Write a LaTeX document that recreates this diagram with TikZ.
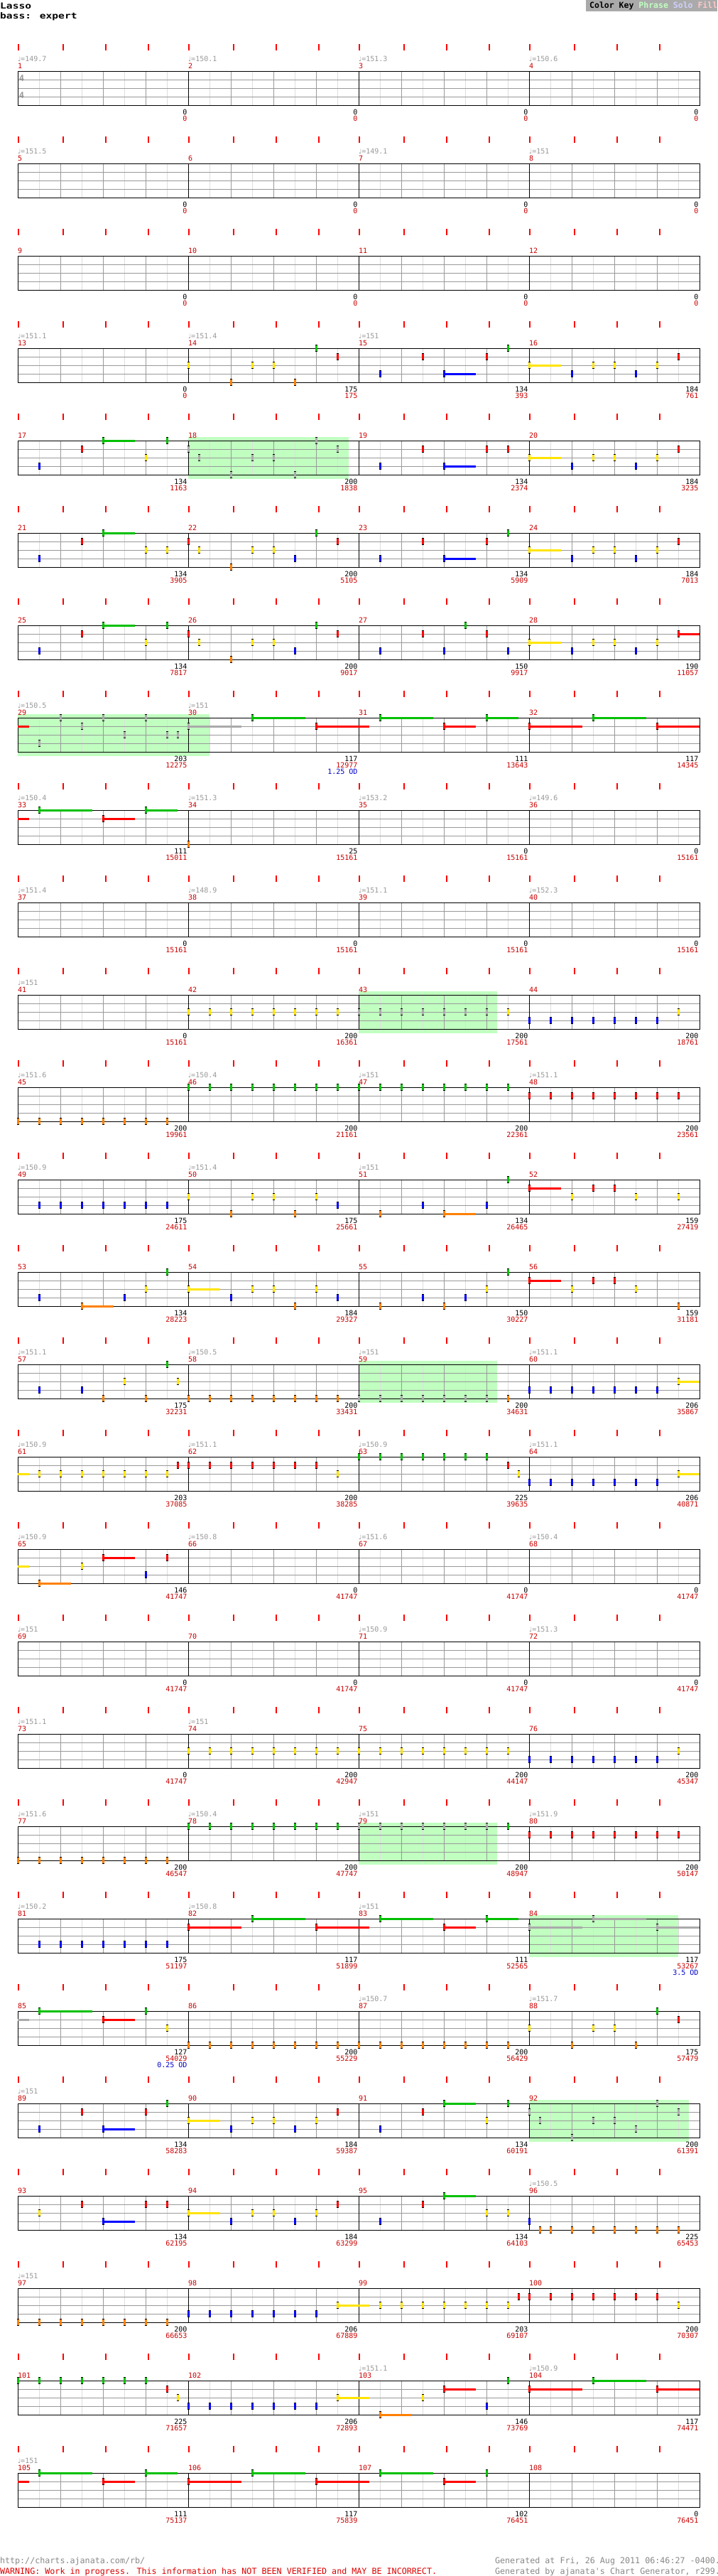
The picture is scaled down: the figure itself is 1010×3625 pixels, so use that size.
\documentclass[tikz,border=0pt]{standalone}
\usepackage{fontspec}
\newfontfamily\mono{DejaVu Sans Mono}
\newfontfamily\symf{DejaVu Sans}
\definecolor{cg}{HTML}{00C000}
\definecolor{cr}{HTML}{FF0000}
\definecolor{cy}{HTML}{FFE400}
\definecolor{cb}{HTML}{0000FF}
\definecolor{co}{HTML}{FF8000}
\definecolor{cgr}{HTML}{AAAAAA}
\definecolor{cph}{HTML}{C0FFC0}
\definecolor{cnum}{HTML}{CC0000}
\definecolor{cgt}{HTML}{999999}
\definecolor{cgl}{HTML}{999999}
\definecolor{cll}{HTML}{DDDDDD}
\definecolor{cod}{HTML}{0000CC}
\definecolor{ckey}{HTML}{AAAAAA}
\definecolor{ckph}{HTML}{C0FFC0}
\definecolor{cksolo}{HTML}{D0D0FF}
\definecolor{ckfill}{HTML}{FFC8C8}
\definecolor{cfg}{HTML}{888888}
\definecolor{cwarn}{HTML}{DD0000}
\newcommand\mxy[2]{%
 \pgfmathtruncatemacro\mrow{(#1-1)/4}%
 \pgfmathtruncatemacro\mcol{#1-1-4*\mrow}%
 \pgfmathsetmacro\mx{25+240*\mcol+60*(#2)}%
 \pgfmathsetmacro\mt{100+130*\mrow}}
\newcommand\nhead[1]{%
 \fill[#1] (\mx-1,\ly-5) rectangle (\mx+2,\ly+5);
 \fill[black] (\mx-1,\ly-5) rectangle (\mx+2,\ly-4);
 \fill[black] (\mx-1,\ly+4) rectangle (\mx+2,\ly+5);}
\newcommand\lanecol[1]{\edef\ncol{\ifcase#1 cg\or cr\or cy\or cb\or co\fi}}
\newcommand\Nt[3]{\mxy{#1}{#2}\pgfmathsetmacro\ly{\mt+12*(#3)}\lanecol{#3}\nhead{\ncol}}
\newcommand\Gt[3]{\mxy{#1}{#2}\pgfmathsetmacro\ly{\mt+12*(#3)}\nhead{cgr}}
\newcommand\St[4]{\mxy{#1}{#2}\pgfmathsetmacro\ly{\mt+12*(#3)}\lanecol{#3}\fill[\ncol] (\mx,\ly-1.5) rectangle (\mx+60*#4,\ly+1.5);\nhead{\ncol}}
\newcommand\GSt[4]{\mxy{#1}{#2}\pgfmathsetmacro\ly{\mt+12*(#3)}\fill[cgr] (\mx,\ly-1.5) rectangle (\mx+60*#4,\ly+1.5);\nhead{cgr}}
\newcommand\Ct[3]{\mxy{#1}{0}\pgfmathsetmacro\ly{\mt+12*(#2)}\fill[#3] (\mx,\ly-1.5) rectangle (\mx+16,\ly+1.5);}
\newcommand\RunN[3]{\foreach \vq in {#3}{\Nt{#1}{\vq}{#2}}}
\newcommand\RunG[3]{\foreach \vq in {#3}{\Gt{#1}{\vq}{#2}}}
\newcommand\Ph[3]{\mxy{#1}{#2}\fill[cph] (\mx,\mt-5) rectangle (\mx+60*#3,\mt+54);}
\begin{document}
\begin{tikzpicture}[x=1pt,y=-1pt,
  txt/.style={font=\mono\fontsize{10}{10}\selectfont,inner sep=0pt,outer sep=0pt},
  ft/.style={font=\mono\fontsize{11.7}{11.7}\selectfont,inner sep=0pt,outer sep=0pt}]
\useasboundingbox (0,0) rectangle (1010,3625);
\fill[white] (0,0) rectangle (1010,3625);
% title
\node[anchor=base west,inner sep=0pt,font=\mono\bfseries\fontsize{14.6}{14.6}\selectfont] (title) at (0,12) {\scalebox{1}[0.8]{Lasso}};
\node[anchor=base west,inner sep=0pt,font=\mono\bfseries\fontsize{14.6}{14.6}\selectfont] (sub) at (0,26) {\scalebox{1}[0.8]{bass: expert}};
% color key
\fill[ckey] (825,0) rectangle (1010,15.7);
\node[anchor=base west,inner sep=0pt,font=\mono\bfseries\fontsize{11.5}{11.5}\selectfont] (key) at (830,11) {Color Key \textcolor{ckph}{Phrase} \textcolor{cksolo}{Solo} \textcolor{ckfill}{Fill}};
% phrase regions
\Ph{18}{0}{3.76}
\Ph{29}{0}{4.5}
\Ph{43}{0}{3.25}
\Ph{59}{0}{3.25}
\Ph{79}{0}{3.25}
\Ph{84}{0}{3.5}
\Ph{92}{0}{3.75}
% grid
\foreach \rr in {0,...,26}{
  \pgfmathsetmacro\rt{100+130*\rr}
  \foreach \k in {1,3,...,31} \draw[cll,line width=1pt] (25+30*\k,\rt) -- (25+30*\k,\rt+48);
  \foreach \k in {2,4,6,10,12,14,18,20,22,26,28,30} \draw[cgl,line width=1pt] (25+30*\k,\rt) -- (25+30*\k,\rt+48);
  \foreach \d in {12,24,36} \draw[cgl,line width=1pt] (25,\rt+\d) -- (985,\rt+\d);
  \foreach \k in {1,2,3} \draw[black,line width=1pt] (25+240*\k,\rt) -- (25+240*\k,\rt+48);
  \draw[black,line width=1pt] (25,\rt) rectangle (985,\rt+48);
  \foreach \mm in {0,1,2,3} \foreach \o in {0,62.7,122.7,182.7}
    \fill[cr] (25+240*\mm+\o,\rt-38) rectangle (27+240*\mm+\o,\rt-29);
}
% time signature
\node[font=\mono\bfseries\fontsize{12}{12}\selectfont,text=cgt,inner sep=0pt] (ts1) at (30.5,110.5) {4};
\node[font=\mono\bfseries\fontsize{12}{12}\selectfont,text=cgt,inner sep=0pt] (ts2) at (30.5,134.5) {4};
% measure numbers
\foreach \vm in {1,...,108}{\mxy{\vm}{0}\node[txt,text=cnum,anchor=base west] at (\mx,\mt-3.5) {\vm};}
% tempos
\foreach \vm/\vv in {1/149.7,2/150.1,3/151.3,4/150.6,5/151.5,7/149.1,8/151,13/151.1,14/151.4,15/151,
 29/150.5,30/151,33/150.4,34/151.3,35/153.2,36/149.6,37/151.4,38/148.9,39/151.1,40/152.3,41/151,
 45/151.6,46/150.4,47/151,48/151.1,49/150.9,50/151.4,51/151,57/151.1,58/150.5,59/151,60/151.1,
 61/150.9,62/151.1,63/150.9,64/151.1,65/150.9,66/150.8,67/151.6,68/150.4,69/151,71/150.9,72/151.3,
 73/151.1,74/151,77/151.6,78/150.4,79/151,80/151.9,81/150.2,82/150.8,83/151,87/150.7,88/151.7,
 89/151,96/150.5,97/151,103/151.1,104/150.9,105/151}
 {\mxy{\vm}{0}\node[txt,text=cgt,anchor=base west] at (\mx,\mt-13.5) {{\symf\fontsize{9}{9}\selectfont ♩}=\vv};}
% labels
\foreach \vm/\vk/\vr in {1/0/0,2/0/0,3/0/0,4/0/0,5/0/0,6/0/0,7/0/0,8/0/0,9/0/0,10/0/0,11/0/0,12/0/0,
 13/0/0,14/175/175,15/134/393,16/184/761,17/134/1163,18/200/1838,19/134/2374,20/184/3235,
 21/134/3905,22/200/5105,23/134/5909,24/184/7013,25/134/7817,26/200/9017,27/150/9917,28/190/11057,
 29/203/12275,30/117/12977,31/111/13643,32/117/14345,33/111/15011,34/25/15161,35/0/15161,36/0/15161,
 37/0/15161,38/0/15161,39/0/15161,40/0/15161,41/0/15161,42/200/16361,43/200/17561,44/200/18761,
 45/200/19961,46/200/21161,47/200/22361,48/200/23561,49/175/24611,50/175/25661,51/134/26465,52/159/27419,
 53/134/28223,54/184/29327,55/150/30227,56/159/31181,57/175/32231,58/200/33431,59/200/34631,60/206/35867,
 61/203/37085,62/200/38285,63/225/39635,64/206/40871,65/146/41747,66/0/41747,67/0/41747,68/0/41747,
 69/0/41747,70/0/41747,71/0/41747,72/0/41747,73/0/41747,74/200/42947,75/200/44147,76/200/45347,
 77/200/46547,78/200/47747,79/200/48947,80/200/50147,81/175/51197,82/117/51899,83/111/52565,84/117/53267,
 85/127/54029,86/200/55229,87/200/56429,88/175/57479,89/134/58283,90/184/59387,91/134/60191,92/200/61391,
 93/134/62195,94/184/63299,95/134/64103,96/225/65453,97/200/66653,98/206/67889,99/203/69107,100/200/70307,
 101/225/71657,102/206/72893,103/146/73769,104/117/74471,105/111/75137,106/117/75839,107/102/76451,108/0/76451}
 {\mxy{\vm}{4}\node[txt,text=black,anchor=base east] at (\mx-1.5,\mt+61) {\vk};
  \node[txt,text=cnum,anchor=base east] at (\mx-1.5,\mt+70) {\vr};}
\foreach \vm/\vt in {30/1.25 OD,84/3.5 OD,85/0.25 OD}
 {\mxy{\vm}{4}\node[txt,text=cod,anchor=base east] at (\mx-1.5,\mt+79) {\vt};}
% continuations
\Ct{29}{1}{cr}\Ct{33}{1}{cr}\Ct{61}{2}{cy}\Ct{65}{2}{cy}\Ct{85}{1}{cgr}\Ct{105}{1}{cr}
% sustains
\foreach \vm/\vb/\vl/\vn in {15/2/3/0.75,16/0/2/0.75,17/2/0/0.75,19/2/3/0.75,20/0/2/0.75,21/2/0/0.75,
 23/2/3/0.75,24/0/2/0.75,25/2/0/0.75,28/0/2/0.75,28/3.5/1/0.5,
 30/1.5/0/1.25,30/3/1/1.25,31/0.5/0/1.25,31/2/1/0.75,31/3/0/0.75,32/0/1/1.25,32/1.5/0/1.25,32/3/1/1,
 33/0.5/0/1.25,33/2/1/0.75,33/3/0/0.75,
 51/2/4/0.75,52/0/1/0.75,53/1.5/4/0.75,54/0/2/0.75,56/0/1/0.75,
 60/3.5/2/0.5,64/3.5/2/0.5,65/0.5/4/0.75,65/2/1/0.75,
 82/0/1/1.25,82/1.5/0/1.25,82/3/1/1.25,83/0.5/0/1.25,83/2/1/0.75,83/3/0/0.75,
 85/0.5/0/1.25,85/2/1/0.75,
 89/2/3/0.75,90/0/2/0.75,91/2/0/0.75,93/2/3/0.75,94/0/2/0.75,95/2/0/0.75,
 98/3.5/2/0.75,102/3.5/2/0.75,103/0.5/4/0.75,103/2/1/0.75,
 104/0/1/1.25,104/1.5/0/1.25,104/3/1/1,
 105/0.5/0/1.25,105/2/1/0.75,105/3/0/0.75,
 106/0/1/1.25,106/1.5/0/1.25,106/3/1/1.25,
 107/0.5/0/1.25,107/2/1/0.75}
 {\St{\vm}{\vb}{\vl}{\vn}}
\foreach \vm/\vb/\vl/\vn in {30/0/1/1.25,84/0/1/1.25,84/1.5/0/1.25,84/3/1/1}
 {\GSt{\vm}{\vb}{\vl}{\vn}}
% gray notes
\foreach \vm/\vb/\vl in {18/0/1,18/0.25/2,18/1/4,18/1.5/2,18/2/2,18/2.5/4,18/3/0,18/3.5/1,
 29/0.5/3,29/1/0,29/1.5/1,29/2/0,29/2.5/2,29/3/0,29/3.5/2,29/3.75/2,
 92/0/1,92/0.25/2,92/1/4,92/1.5/2,92/2/2,92/2.5/3,92/3/0,92/3.5/1}
 {\Gt{\vm}{\vb}{\vl}}
\RunG{43}{2}{0,0.5,...,3}
\RunG{59}{4}{0,0.5,...,3}
\RunG{79}{0}{0,0.5,...,3}
% single notes
\foreach \vm/\vb/\vl in {14/0/2,14/1/4,14/1.5/2,14/2/2,14/2.5/4,14/3/0,14/3.5/1,
 15/0.5/3,15/1.5/1,15/3/1,15/3.5/0,
 16/1/3,16/1.5/2,16/2/2,16/2.5/3,16/3/2,16/3.5/1,
 17/0.5/3,17/1.5/1,17/3/2,17/3.5/0,
 19/0.5/3,19/1.5/1,19/3/1,19/3.5/1,
 20/1/3,20/1.5/2,20/2/2,20/2.5/3,20/3/2,20/3.5/1,
 21/0.5/3,21/1.5/1,21/3/2,21/3.5/2,
 22/0/1,22/0.25/2,22/1/4,22/1.5/2,22/2/2,22/2.5/3,22/3/0,22/3.5/1,
 23/0.5/3,23/1.5/1,23/3/1,23/3.5/0,
 24/1/3,24/1.5/2,24/2/2,24/2.5/3,24/3/2,24/3.5/1,
 25/0.5/3,25/1.5/1,25/3/2,25/3.5/0,
 26/0/1,26/0.25/2,26/1/4,26/1.5/2,26/2/2,26/2.5/3,26/3/0,26/3.5/1,
 27/0.5/3,27/1.5/1,27/2/3,27/2.5/0,27/3/1,27/3.5/3,
 28/1/3,28/1.5/2,28/2/2,28/2.5/3,28/3/2,
 34/0/4,43/3.5/2,44/3.5/2,
 50/0/2,50/1/4,50/1.5/2,50/2/2,50/2.5/4,50/3/2,50/3.5/3,
 51/0.5/4,51/1.5/3,51/3/3,51/3.5/0,
 52/1/2,52/1.5/1,52/2/1,52/2.5/2,52/3.5/2,
 53/0.5/3,53/2.5/3,53/3/2,53/3.5/0,
 54/1/3,54/1.5/2,54/2/2,54/2.5/4,54/3/2,54/3.5/3,
 55/0.5/4,55/1.5/3,55/2/4,55/2.5/3,55/3/2,55/3.5/0,
 56/1/2,56/1.5/1,56/2/1,56/2.5/2,56/3.5/4,
 57/0.5/3,57/1.5/3,57/2/4,57/2.5/2,57/3/4,57/3.5/0,57/3.75/2,
 59/3.5/4,61/3.75/1,62/3.5/2,63/3.5/1,63/3.75/2,
 65/1.5/2,65/3/3,65/3.5/1,
 76/3.5/2,79/3.5/0,
 85/3/0,85/3.5/2,
 88/0/2,88/1/4,88/1.5/2,88/2/2,88/2.5/4,88/3/0,88/3.5/1,
 89/0.5/3,89/1.5/1,89/3/1,89/3.5/0,
 90/1/3,90/1.5/2,90/2/2,90/2.5/3,90/3/2,90/3.5/1,
 91/0.5/3,91/1.5/1,91/3/2,91/3.5/0,
 93/0.5/2,93/1.5/1,93/3/1,93/3.5/1,
 94/1/3,94/1.5/2,94/2/2,94/2.5/3,94/3/2,94/3.5/1,
 95/0.5/3,95/1.5/1,95/3/2,95/3.5/2,
 96/0/3,96/0.25/4,96/0.5/4,96/1/4,96/1.5/4,96/2/4,96/2.5/4,96/3/4,96/3.5/4,
 99/3.75/1,100/3.5/2,101/3.5/1,101/3.75/2,
 103/1.5/2,103/3/3,103/3.5/0,
 107/3/0}
 {\Nt{\vm}{\vb}{\vl}}
% runs
\RunN{42}{2}{0,0.5,...,3.5}
\RunN{44}{3}{0,0.5,...,3}
\RunN{45}{4}{0,0.5,...,3.5}
\RunN{46}{0}{0,0.5,...,3.5}
\RunN{47}{0}{0,0.5,...,3.5}
\RunN{48}{1}{0,0.5,...,3.5}
\RunN{49}{3}{0.5,1,...,3.5}
\RunN{58}{4}{0,0.5,...,3.5}
\RunN{60}{3}{0,0.5,...,3}
\RunN{61}{2}{0.5,1,...,3.5}
\RunN{62}{1}{0,0.5,...,3}
\RunN{63}{0}{0,0.5,...,3}
\RunN{64}{3}{0,0.5,...,3}
\RunN{74}{2}{0,0.5,...,3.5}
\RunN{75}{2}{0,0.5,...,3.5}
\RunN{76}{3}{0,0.5,...,3}
\RunN{77}{4}{0,0.5,...,3.5}
\RunN{78}{0}{0,0.5,...,3.5}
\RunN{80}{1}{0,0.5,...,3.5}
\RunN{81}{3}{0.5,1,...,3.5}
\RunN{86}{4}{0,0.5,...,3.5}
\RunN{87}{4}{0,0.5,...,3.5}
\RunN{97}{4}{0,0.5,...,3.5}
\RunN{98}{3}{0,0.5,...,3}
\RunN{99}{2}{0.5,1,...,3.5}
\RunN{100}{1}{0,0.5,...,3}
\RunN{101}{0}{0,0.5,...,3}
\RunN{102}{3}{0,0.5,...,3}
% footer
\node[ft,text=cfg,anchor=base west] (url) at (0,3607) {http://charts.ajanata.com/rb/};
\node[ft,text=cwarn,anchor=base west] (warn) at (0,3622) {WARNING: Work in progress. This information has NOT BEEN VERIFIED and MAY BE INCORRECT.};
\node[ft,text=cfg,anchor=base west] (gen1) at (697,3607) {Generated at Fri, 26 Aug 2011 06:46:27 -0400.};
\node[ft,text=cfg,anchor=base west] (gen2) at (697,3622) {Generated by ajanata's Chart Generator, r299.};
\end{tikzpicture}
\end{document}
